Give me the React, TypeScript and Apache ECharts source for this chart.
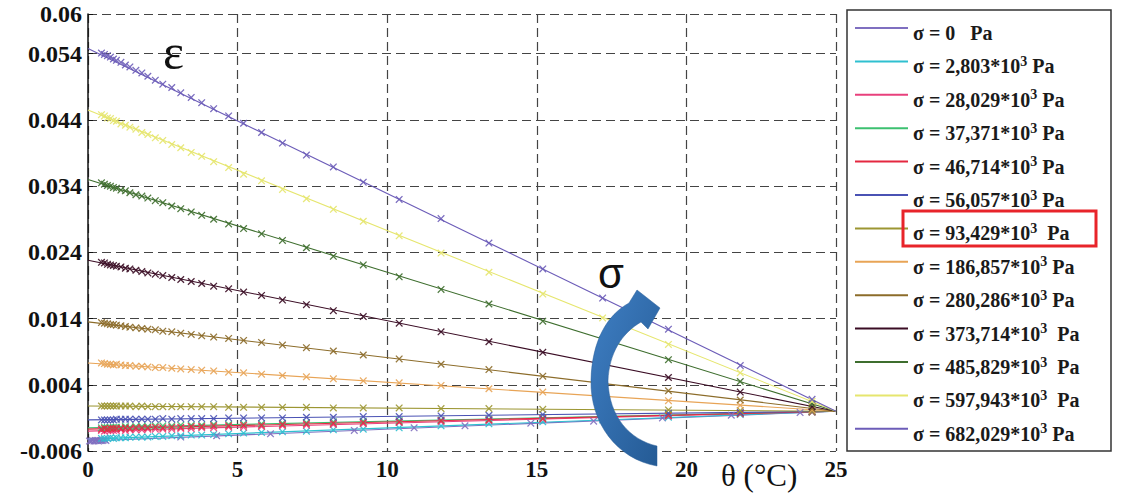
import React, { useEffect, useRef } from 'react';
import * as echarts from 'echarts';

// ---------- data ----------
const seriesNames = [
  'σ = 0   Pa',
  'σ = 2,803*10³ Pa',
  'σ = 28,029*10³ Pa',
  'σ = 37,371*10³ Pa',
  'σ = 46,714*10³ Pa',
  'σ = 56,057*10³ Pa',
  'σ = 93,429*10³  Pa',
  'σ = 186,857*10³ Pa',
  'σ = 280,286*10³ Pa',
  'σ = 373,714*10³  Pa',
  'σ = 485,829*10³  Pa',
  'σ = 597,943*10³  Pa',
  'σ = 682,029*10³ Pa',
];
const seriesColors = [
  '#7f6fc0', '#2fc0d0', '#e8407c', '#3cc070', '#e42840', '#4a52b4', '#9c9632',
  '#e8a456', '#8c6c2a', '#3a0c24', '#3e6e2e', '#e6e66e', '#6c5cb8',
];

// fitted straight lines: value at θ = 0 and θ = 25
const fitTheta = [0, 25];
const fitStart = [-0.0045, -0.0042, -0.003, -0.0025, -0.0027, -0.0013, 0.0008, 0.0073, 0.0135, 0.0228, 0.035, 0.0455, 0.0548];
const fitEnd = [0, 0, 0, 0, 0, 0, 0, 0, 0, 0, 0, 0, 0];

// measured points
const thetaPts = [0.45, 0.55, 0.65, 0.75, 0.85, 0.95, 1.1, 1.25, 1.4, 1.6, 1.8, 2.0, 2.25, 2.5, 2.8, 3.1, 3.45, 3.8, 4.2, 4.7, 5.2, 5.8, 6.5, 7.3, 8.2, 9.2, 10.4, 11.8, 13.4, 15.2, 17.2, 19.4, 21.8, 24.2];
const thetaZero = [0.05, 0.1, 0.15, 0.2, 0.25, 0.3, 0.35, 0.4, 0.45, 0.5, 0.55, 0.6, 3.1, 4.3, 6.1, 8.9, 10.9, 12.6, 14.8, 16.9, 19.2, 21.5, 23.8];

const eps0 = [-0.0045, -0.0045, -0.0044, -0.0045, -0.0044, -0.0044, -0.0045, -0.0044, -0.0044, -0.0044, -0.0043, -0.0044, -0.0039, -0.0037, -0.0034, -0.0029, -0.0025, -0.0022, -0.0018, -0.0015, -0.001, -0.0006, -0.0002];
const eps2803 = [-0.0041, -0.0041, -0.0041, -0.004, -0.0041, -0.004, -0.004, -0.004, -0.0039, -0.0039, -0.0039, -0.0039, -0.0038, -0.0038, -0.0037, -0.0037, -0.0036, -0.0036, -0.0035, -0.0034, -0.0033, -0.0032, -0.0031, -0.003, -0.0028, -0.0027, -0.0025, -0.0022, -0.0019, -0.0016, -0.0013, -0.0009, -0.0005, -0.0001];
const eps28029 = [-0.0029, -0.003, -0.0029, -0.0029, -0.0029, -0.0029, -0.0028, -0.0029, -0.0028, -0.0028, -0.0028, -0.0027, -0.0027, -0.0027, -0.0027, -0.0026, -0.0026, -0.0025, -0.0025, -0.0024, -0.0024, -0.0023, -0.0022, -0.0021, -0.002, -0.0019, -0.0017, -0.0016, -0.0014, -0.0012, -0.0009, -0.0007, -0.0004, -0.0001];
const eps37371 = [-0.0025, -0.0024, -0.0025, -0.0024, -0.0024, -0.0024, -0.0024, -0.0023, -0.0024, -0.0023, -0.0023, -0.0023, -0.0022, -0.0022, -0.0022, -0.0021, -0.0021, -0.0021, -0.002, -0.002, -0.0019, -0.0019, -0.0018, -0.0017, -0.0016, -0.0015, -0.0014, -0.0013, -0.0012, -0.001, -0.0008, -0.0005, -0.0003, -0.0001];
const eps46714 = [-0.0027, -0.0026, -0.0027, -0.0026, -0.0026, -0.0026, -0.0026, -0.0025, -0.0026, -0.0025, -0.0025, -0.0025, -0.0024, -0.0025, -0.0024, -0.0024, -0.0023, -0.0023, -0.0022, -0.0022, -0.0021, -0.0021, -0.002, -0.0019, -0.0018, -0.0017, -0.0016, -0.0014, -0.0013, -0.0011, -0.0008, -0.0006, -0.0003, -0.0001];
const eps56057 = [-0.0013, -0.0013, -0.0013, -0.0013, -0.0013, -0.0012, -0.0012, -0.0012, -0.0012, -0.0012, -0.0012, -0.0012, -0.0012, -0.0011, -0.0012, -0.0011, -0.0011, -0.0011, -0.0011, -0.001, -0.001, -0.001, -0.001, -0.0009, -0.0009, -0.0008, -0.0008, -0.0007, -0.0006, -0.0005, -0.0004, -0.0003, -0.0002, 0.0];
const eps93429 = [0.0008, 0.0008, 0.0008, 0.0008, 0.0008, 0.0008, 0.0008, 0.0008, 0.0008, 0.0007, 0.0008, 0.0007, 0.0007, 0.0007, 0.0007, 0.0007, 0.0007, 0.0007, 0.0007, 0.0006, 0.0006, 0.0006, 0.0006, 0.0006, 0.0005, 0.0005, 0.0005, 0.0004, 0.0004, 0.0003, 0.0003, 0.0002, 0.0001, 0.0];
const eps186857 = [0.0073, 0.0072, 0.0071, 0.0071, 0.007, 0.0071, 0.007, 0.0069, 0.0069, 0.0068, 0.0068, 0.0067, 0.0066, 0.0066, 0.0065, 0.0064, 0.0063, 0.0062, 0.0061, 0.0059, 0.0058, 0.0056, 0.0054, 0.0052, 0.0049, 0.0046, 0.0043, 0.0039, 0.0034, 0.0029, 0.0023, 0.0016, 0.0009, 0.0002];
const eps280286 = [0.0134, 0.0133, 0.0132, 0.0131, 0.0131, 0.013, 0.0129, 0.0128, 0.0127, 0.0126, 0.0125, 0.0124, 0.0123, 0.0121, 0.012, 0.0118, 0.0116, 0.0114, 0.0112, 0.011, 0.0107, 0.0104, 0.01, 0.0096, 0.0091, 0.0085, 0.0079, 0.0071, 0.0063, 0.0053, 0.0042, 0.0031, 0.0017, 0.0004];
const eps373714 = [0.0225, 0.0224, 0.0222, 0.0221, 0.022, 0.0219, 0.0218, 0.0216, 0.0215, 0.0213, 0.0211, 0.0209, 0.0207, 0.0205, 0.0202, 0.0199, 0.0196, 0.0193, 0.0189, 0.0185, 0.018, 0.0175, 0.0168, 0.0161, 0.0152, 0.0143, 0.0133, 0.012, 0.0105, 0.0089, 0.0071, 0.0051, 0.0029, 0.0007];
const eps485829 = [0.0345, 0.0343, 0.0341, 0.034, 0.0338, 0.0337, 0.0334, 0.0333, 0.033, 0.0327, 0.0325, 0.0322, 0.0318, 0.0315, 0.031, 0.0306, 0.0301, 0.0296, 0.029, 0.0283, 0.0276, 0.0268, 0.0258, 0.0247, 0.0234, 0.0221, 0.0203, 0.0184, 0.0162, 0.0136, 0.0108, 0.0078, 0.0045, 0.0011];
const eps597943 = [0.0448, 0.0446, 0.0443, 0.0442, 0.0439, 0.0438, 0.0434, 0.0432, 0.0429, 0.0426, 0.0421, 0.0418, 0.0413, 0.0409, 0.0403, 0.0398, 0.0391, 0.0385, 0.0377, 0.0368, 0.0358, 0.0348, 0.0335, 0.0321, 0.0305, 0.0287, 0.0265, 0.0239, 0.021, 0.0177, 0.0141, 0.0101, 0.0058, 0.0015];
const eps682029 = [0.0541, 0.0539, 0.0537, 0.0535, 0.0532, 0.053, 0.0527, 0.0523, 0.052, 0.0515, 0.0511, 0.0506, 0.05, 0.0494, 0.0489, 0.0481, 0.0474, 0.0466, 0.0457, 0.0446, 0.0435, 0.0421, 0.0405, 0.0387, 0.0369, 0.0346, 0.032, 0.0291, 0.0254, 0.0215, 0.0171, 0.0124, 0.0069, 0.0018];

const measured = [eps0, eps2803, eps28029, eps37371, eps46714, eps56057, eps93429, eps186857, eps280286, eps373714, eps485829, eps597943, eps682029];

const yTicks = [-0.006, 0.004, 0.014, 0.024, 0.034, 0.044, 0.054, 0.06];

// ---------- styling ----------
const SERIF = "'Liberation Serif', 'Times New Roman', serif";
const CROSS = 'path://M0,1.2L1.2,0L5,3.8L8.8,0L10,1.2L6.2,5L10,8.8L8.8,10L5,6.2L1.2,10L0,8.8L3.8,5Z';
const ARROW_D =
  'M657 466 C617 459 590 423 591 380 C592 341 607 315 629 303 L637 290 L660 308 L648 329 L641 322 C622 333 609 353 608 381 C609 417 630 440 657 446 Z';

export default function App() {
  const ref = useRef<HTMLDivElement>(null);
  useEffect(() => {
    if (!ref.current) return;
    echarts.graphic.registerShape('sigmaArrow', echarts.graphic.extendPath(ARROW_D, {}));
    const chart = echarts.init(ref.current, null, { renderer: 'svg' });

    const series: any[] = [];
    seriesNames.forEach((name, i) => {
      series.push({
        type: 'line',
        name,
        data: fitTheta.map((t, k) => [t, k === 0 ? fitStart[i] : fitEnd[i]]),
        showSymbol: false,
        symbol: 'none',
        lineStyle: { color: seriesColors[i], width: 1.1 },
        itemStyle: { color: seriesColors[i] },
        z: 2,
      });
    });
    seriesNames.forEach((name, i) => {
      const th = i === 0 ? thetaZero : thetaPts;
      series.push({
        type: 'scatter',
        name,
        data: th.map((t, k) => [t, measured[i][k]]),
        symbol: CROSS,
        symbolSize: 7.5,
        itemStyle: { color: seriesColors[i], opacity: 0.9 },
        z: 3,
      });
    });

    const fmt = (v: number) => String(parseFloat(v.toFixed(3)));
    const legendLabel = (name: string) => {
      const i = name.indexOf('*10³');
      if (i < 0) return `{m|${name}}`;
      return `{m|${name.slice(0, i)}*10}{sup|3}{m|${name.slice(i + 4)}}`;
    };

    chart.setOption({
      animation: false,
      backgroundColor: '#ffffff',
      grid: { left: 88, top: 14, width: 748, height: 437, containLabel: false },
      xAxis: {
        type: 'value',
        min: 0,
        max: 25,
        interval: 5,
        axisLine: { show: false },
        axisTick: { show: false },
        axisLabel: { fontFamily: SERIF, fontWeight: 'bold', fontSize: 23, color: '#111', margin: 7 },
        splitLine: { show: true, lineStyle: { type: [9, 5], color: '#444', width: 1.2 } },
      },
      yAxis: {
        type: 'value',
        min: -0.006,
        max: 0.06,
        axisLine: { show: true, onZero: false, lineStyle: { color: '#111', width: 1.5 } },
        axisTick: { show: true, inside: true, length: 5, customValues: yTicks, lineStyle: { color: '#111' } },
        axisLabel: {
          customValues: yTicks,
          formatter: (v: number) => fmt(v),
          fontFamily: SERIF,
          fontWeight: 'bold',
          fontSize: 24,
          color: '#111',
          margin: 6,
        },
        splitLine: { show: true, lineStyle: { type: [9, 5], color: '#444', width: 1.2 } },
      },
      legend: [
        // line samples
        {
          orient: 'vertical',
          left: 855,
          top: 27,
          padding: 0,
          itemWidth: 53,
          itemHeight: 2,
          itemGap: 31.4,
          icon: 'rect',
          data: seriesNames,
          formatter: () => '',
          textStyle: { fontSize: 1, lineHeight: 1 },
        },
        // labels
        {
          orient: 'vertical',
          left: 855,
          top: 18,
          padding: 0,
          itemWidth: 53,
          itemHeight: 30,
          itemGap: 3.4,
          icon: 'rect',
          itemStyle: { color: 'rgba(0,0,0,0)', opacity: 0, borderWidth: 0 },
          data: seriesNames,
          formatter: legendLabel,
          textStyle: {
            fontFamily: SERIF,
            fontWeight: 'bold',
            fontSize: 20,
            color: '#1a1a1a',
            rich: {
              m: { fontFamily: SERIF, fontWeight: 'bold', fontSize: 20, lineHeight: 24, color: '#1a1a1a' },
              sup: { fontFamily: SERIF, fontWeight: 'bold', fontSize: 14, lineHeight: 12, verticalAlign: 'top', color: '#1a1a1a' },
            },
          },
        },
      ],
      graphic: [
        {
          type: 'rect',
          shape: { x: 847, y: 10, width: 264, height: 441 },
          style: { fill: 'none', stroke: '#333', lineWidth: 1.5 },
          z: 0,
        },
        {
          type: 'rect',
          shape: { x: 903, y: 211, width: 193, height: 35 },
          style: { fill: 'none', stroke: '#e8242a', lineWidth: 3 },
          z: 10,
        },
        {
          type: 'text',
          x: 163,
          y: 52,
          style: { text: 'ε', font: `50px ${SERIF}`, fill: '#111', textVerticalAlign: 'middle' },
          z: 10,
        },
        {
          type: 'text',
          x: 598,
          y: 273,
          style: { text: 'σ', font: "42px 'Liberation Sans', Arial, sans-serif", fill: '#111', textVerticalAlign: 'middle' },
          z: 10,
        },
        {
          type: 'text',
          x: 721,
          y: 475,
          style: { text: 'θ (°C)', font: `31px ${SERIF}`, fill: '#111', textVerticalAlign: 'middle' },
          z: 10,
        },
        {
          type: 'sigmaArrow',
          x: 0,
          y: 0,
          style: {
            fill: new echarts.graphic.LinearGradient(0, 0, 1, 1, [
              { offset: 0, color: '#3f7fc4' },
              { offset: 1, color: '#245a94' },
            ]),
            stroke: '#2a5f98',
            lineWidth: 0.5,
          },
          z: 20,
        },
      ],
      series,
    });
    return () => chart.dispose();
  }, []);
  return (
    <div
      ref={ref}
      style={{ position: 'fixed', left: 0, top: 0, width: 1123, height: 493, background: '#fff' }}
    />
  );
}
